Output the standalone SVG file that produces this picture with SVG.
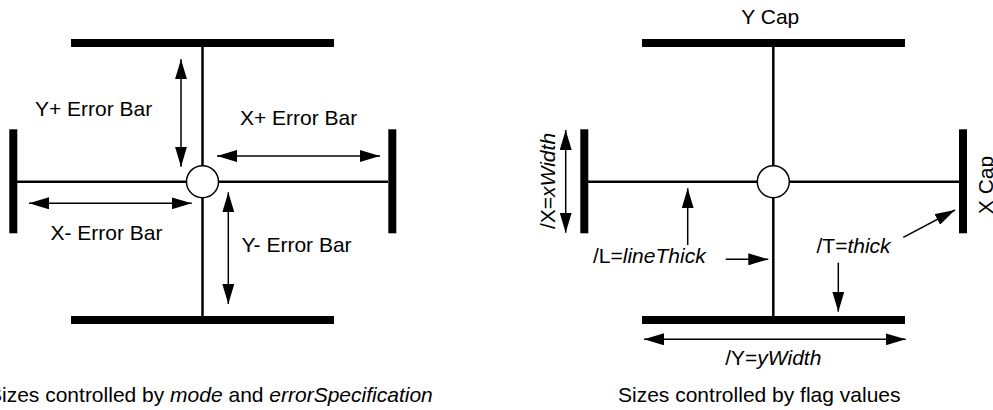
<svg xmlns="http://www.w3.org/2000/svg" width="993" height="410" viewBox="0 0 993 410">
<defs>
<marker id="ah" markerUnits="userSpaceOnUse" markerWidth="20" markerHeight="12" refX="20" refY="6" orient="auto-start-reverse" viewBox="0 0 20 12">
<path d="M0,0 L20,6 L0,12 z" fill="#000"/>
</marker>
</defs>
<style>
.ln{stroke:#000;stroke-width:2.5;fill:none}
.cap{fill:#000}
.pt{fill:#fff;stroke:#000;stroke-width:1.5}
.ar{stroke:#000;stroke-width:1.5;fill:none;marker-end:url(#ah)}
.dar{stroke:#000;stroke-width:1.5;fill:none;marker-start:url(#ah);marker-end:url(#ah)}
text{font-family:"Liberation Sans",Arial,sans-serif;font-size:21px;fill:#000}
.it{font-style:italic}
</style>
<rect width="993" height="410" fill="#fff"/>

<g id="left-errorbar">
<line class="ln" x1="202.5" y1="43" x2="202.5" y2="320"/>
<line class="ln" x1="17" y1="181.7" x2="388" y2="181.7"/>
<rect class="cap" x="71" y="39" width="263" height="8"/>
<rect class="cap" x="71" y="316" width="263" height="8"/>
<rect class="cap" x="9.3" y="129.3" width="8" height="104"/>
<rect class="cap" x="388.3" y="129.3" width="8" height="104"/>
<circle class="pt" cx="202.5" cy="181.7" r="16"/>
</g>

<g id="right-errorbar">
<line class="ln" x1="773.3" y1="43" x2="773.3" y2="320"/>
<line class="ln" x1="588" y1="181.7" x2="959" y2="181.7"/>
<rect class="cap" x="642" y="39" width="263" height="8"/>
<rect class="cap" x="642" y="316" width="263" height="8"/>
<rect class="cap" x="580.3" y="129.3" width="8" height="104"/>
<rect class="cap" x="959" y="129.3" width="8" height="104"/>
<circle class="pt" cx="773.3" cy="181.7" r="16"/>
</g>

<g id="connectors">
<line class="dar" x1="181" y1="59.3" x2="181" y2="166.7"/>
<line class="dar" x1="217" y1="156" x2="380" y2="156"/>
<line class="dar" x1="29" y1="203.3" x2="191.7" y2="203.3"/>
<line class="dar" x1="228.3" y1="192.3" x2="228.3" y2="304"/>
<line class="dar" x1="565.7" y1="130" x2="565.7" y2="232.7"/>
<line class="ar" x1="687.7" y1="245" x2="687.7" y2="188.3"/>
<line class="ar" x1="725.7" y1="259.3" x2="768.3" y2="259.3"/>
<line class="ar" x1="838.3" y1="262.7" x2="838.3" y2="311.7"/>
<line class="ar" x1="903.3" y1="237.3" x2="955" y2="210"/>
<line class="dar" x1="644" y1="339.3" x2="905.7" y2="339.3"/>
</g>

<g id="labels">
<text x="35" y="116">Y+ Error Bar</text>
<text x="240" y="125">X+ Error Bar</text>
<text x="50.5" y="239.5">X- Error Bar</text>
<text x="241.5" y="251.7">Y- Error Bar</text>
<text x="-12" y="401.5">Sizes controlled by <tspan class="it">mode</tspan> and <tspan class="it">errorSpecification</tspan></text>
<text x="770.3" y="24.3" text-anchor="middle">Y Cap</text>
<text transform="translate(993,185) rotate(-90)" text-anchor="middle">X Cap</text>
<text transform="translate(555,181) rotate(-90)" text-anchor="middle">/X=<tspan class="it">xWidth</tspan></text>
<text x="593" y="263.3">/L=<tspan class="it">lineThick</tspan></text>
<text x="816.5" y="253.3">/T=<tspan class="it">thick</tspan></text>
<text x="773.3" y="365" text-anchor="middle">/Y=<tspan class="it">yWidth</tspan></text>
<text x="618" y="401.5">Sizes controlled by flag values</text>
</g>
</svg>
